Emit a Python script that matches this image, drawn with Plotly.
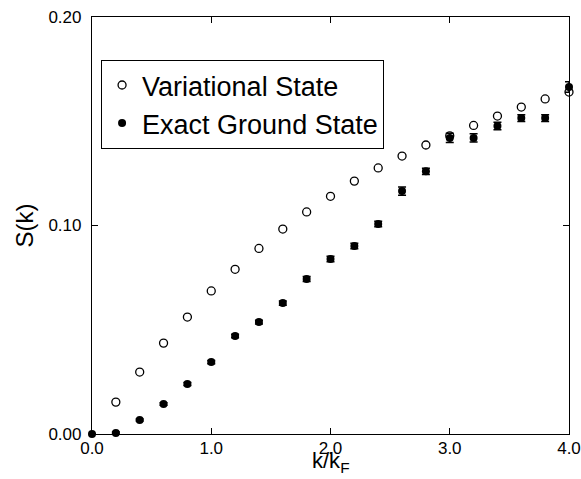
import plotly.graph_objects as go

k_var = [0.2, 0.4, 0.6, 0.8, 1.0, 1.2, 1.4, 1.6, 1.8, 2.0, 2.2, 2.4, 2.6, 2.8, 3.0, 3.2, 3.4, 3.6, 3.8, 4.0]
s_var = [0.0153, 0.0297, 0.0436, 0.0561, 0.0686, 0.0790, 0.0890, 0.0983, 0.1065, 0.1140, 0.1213,
         0.1276, 0.1333, 0.1386, 0.1430, 0.1480, 0.1525, 0.1568, 0.1607, 0.1640]

k_exact = [0.0, 0.2, 0.4, 0.6, 0.8, 1.0, 1.2, 1.4, 1.6, 1.8, 2.0, 2.2, 2.4, 2.6, 2.8, 3.0, 3.2, 3.4, 3.6, 3.8, 4.0]
s_exact = [0.0, 0.0005, 0.0067, 0.0144, 0.0240, 0.0345, 0.0470, 0.0537, 0.0628, 0.0743, 0.0839, 0.0902,
           0.1007, 0.1165, 0.1260, 0.1420, 0.1420, 0.1477, 0.1515, 0.1515, 0.1664]
err_exact = [0.0, 0.0005, 0.0005, 0.0006, 0.0007, 0.0008, 0.0008, 0.0009, 0.0010, 0.0012, 0.0013, 0.0013,
             0.0013, 0.0020, 0.0015, 0.0022, 0.0020, 0.0018, 0.0016, 0.0016, 0.0025]

x_ticks = [0.0, 1.0, 2.0, 3.0, 4.0]
x_tick_labels = ["0.0", "1.0", "2.0", "3.0", "4.0"]
y_ticks = [0.0, 0.10, 0.20]
y_tick_labels = ["0.00", "0.10", "0.20"]

FONT = "Liberation Sans, Arial, Helvetica"

fig = go.Figure()
fig.add_trace(go.Scatter(
    x=k_var, y=s_var, mode="markers", name="Variational State",
    marker=dict(symbol="circle-open", size=8, color="black", line=dict(width=1.3, color="black")),
    cliponaxis=False,
))
fig.add_trace(go.Scatter(
    x=k_exact, y=s_exact, mode="markers", name="Exact Ground State",
    marker=dict(symbol="circle", size=8, color="black"),
    error_y=dict(type="data", array=err_exact, visible=True, color="black", thickness=1.5, width=4),
    cliponaxis=False,
))

axis_common = dict(
    showgrid=False, zeroline=False, showline=True, linecolor="black", linewidth=1.2,
    mirror="ticks", ticks="inside", ticklen=6, tickcolor="black", tickwidth=1,
    tickfont=dict(family=FONT, size=17, color="black"), automargin=False,
)

fig.update_layout(
    width=581, height=479,
    margin=dict(l=92, r=12, t=17, b=45),
    plot_bgcolor="white", paper_bgcolor="white",
    font=dict(family=FONT, color="black"),
    showlegend=True,
    legend=dict(
        x=0.019, y=0.897, xanchor="left", yanchor="top",
        bordercolor="black", borderwidth=1, bgcolor="white",
        font=dict(family=FONT, size=27, color="black"),
        itemsizing="trace", tracegroupgap=0,
    ),
    xaxis=dict(range=[0, 4], tickvals=x_ticks, ticktext=x_tick_labels, ticklabelstandoff=-2,
               **axis_common),
    yaxis=dict(range=[0, 0.20], tickvals=y_ticks, ticktext=y_tick_labels, ticklabelstandoff=6,
               title=dict(text="S(k)", font=dict(family=FONT, size=24), standoff=8), **axis_common),
    annotations=[
        dict(text="k/k<sub>F</sub>", xref="paper", yref="paper", x=0.5, y=-0.106,
             xanchor="center", yanchor="bottom", showarrow=False,
             font=dict(family=FONT, size=22, color="black")),
    ],
)

fig.write_html("out.html", config={"displayModeBar": False},
               post_script="document.body.style.margin='0';document.body.style.overflow='hidden';")
